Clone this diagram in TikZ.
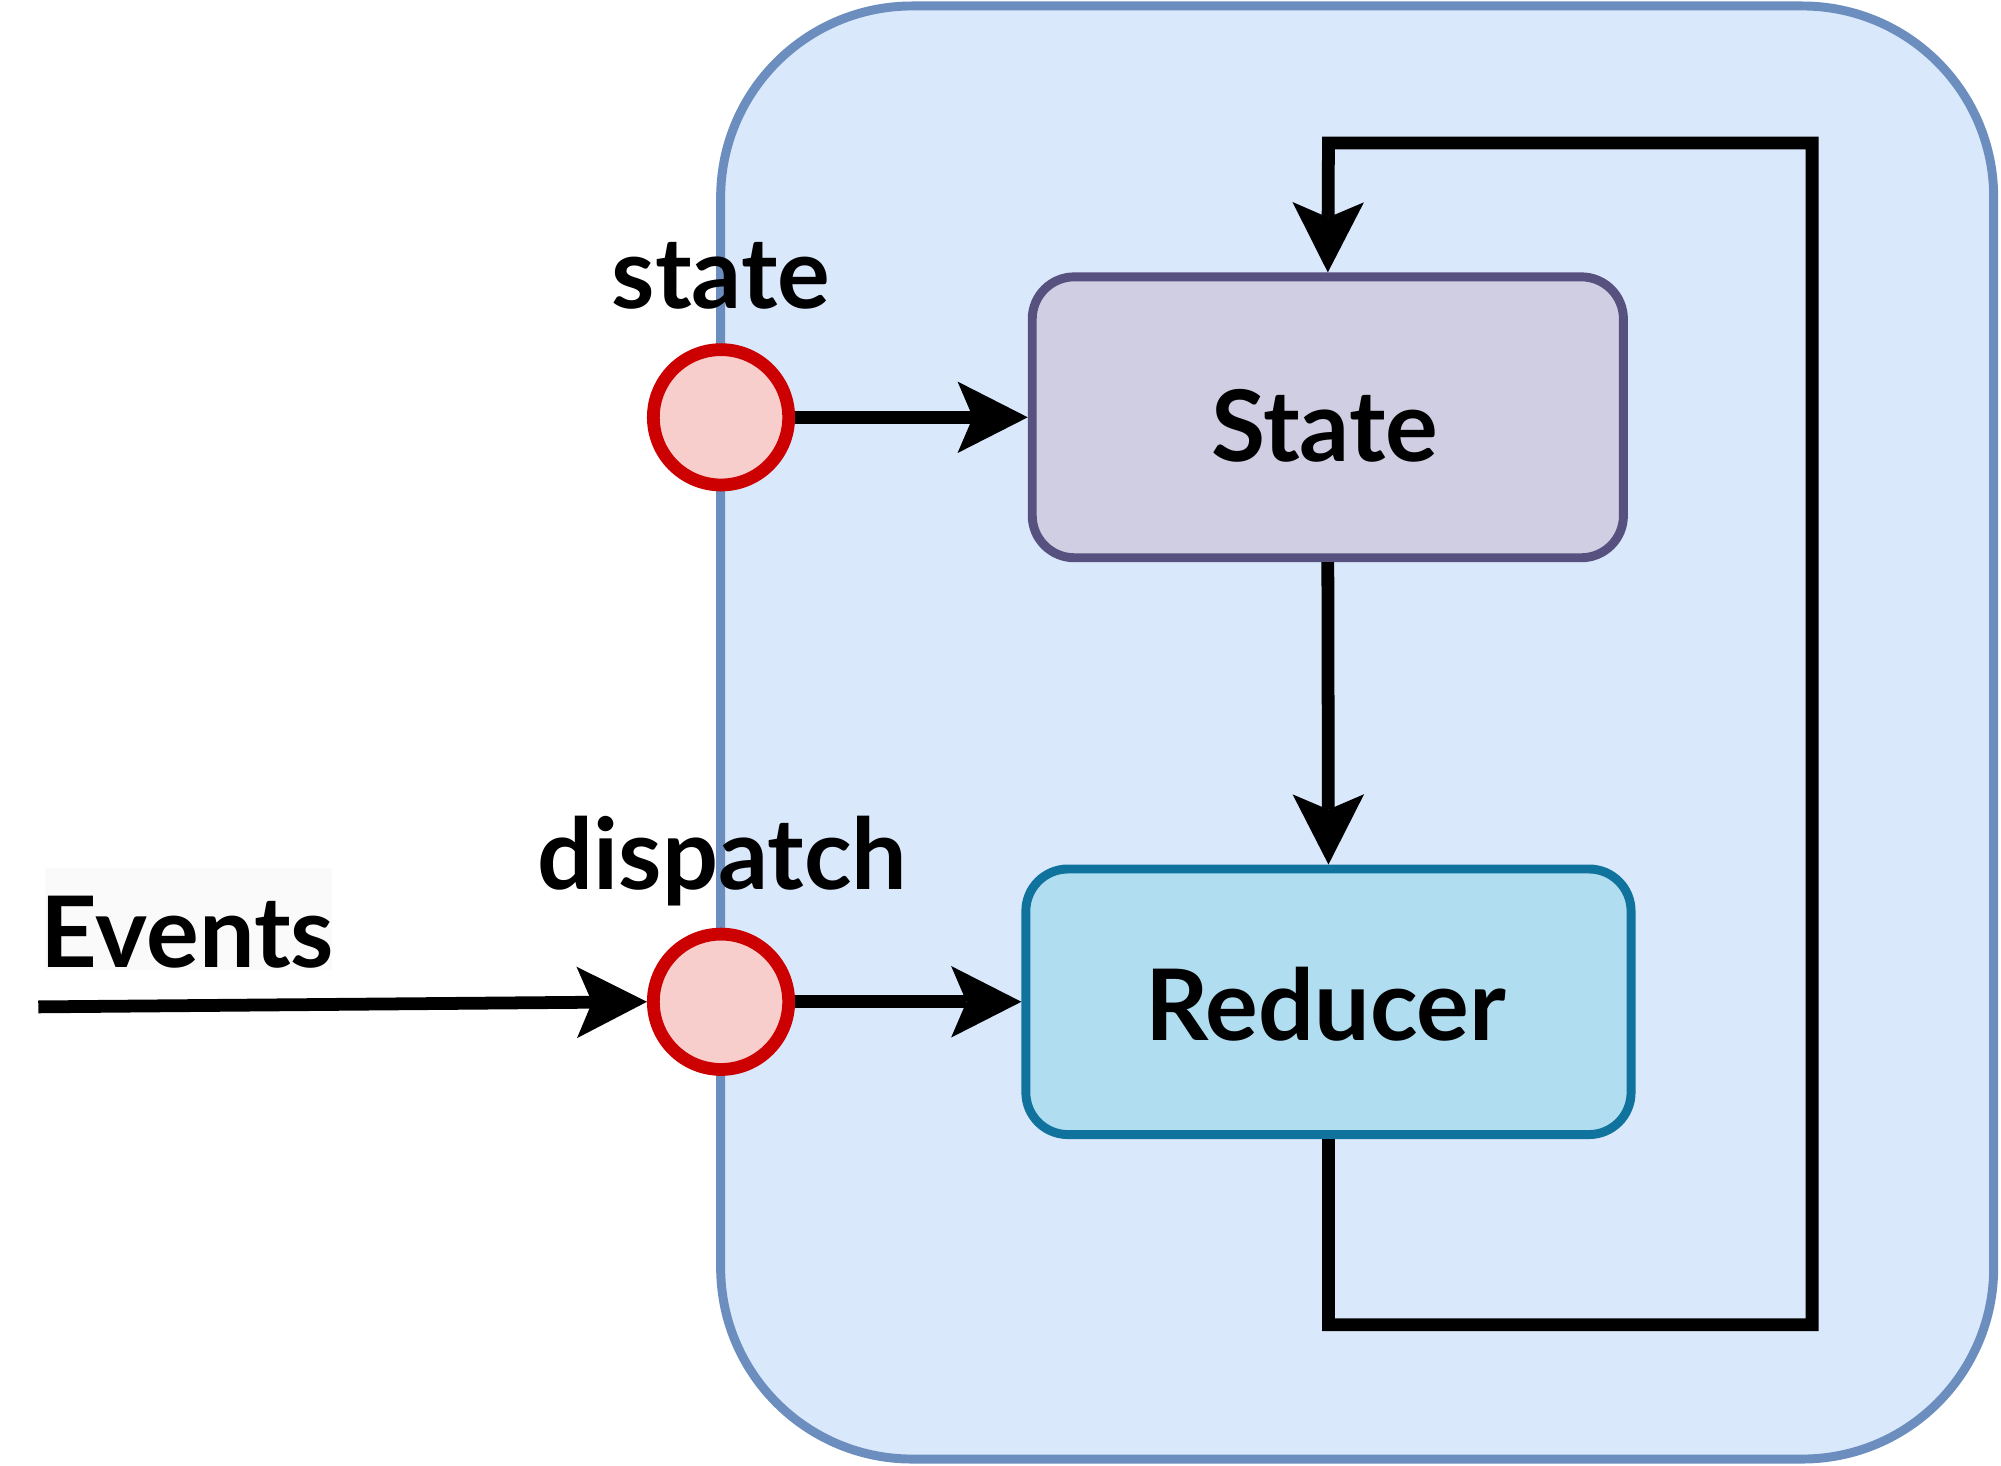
\documentclass[tikz,border=0pt]{standalone}
\usepackage{fontspec}
\setmainfont{Lato}
\usepackage{xcolor}
\usetikzlibrary{positioning}
\usetikzlibrary{arrows.meta}
\definecolor{frameFill}{HTML}{DAE8FC}
\definecolor{frameDraw}{HTML}{6C8EBF}
\definecolor{dotFill}{HTML}{F8CECC}
\definecolor{dotDraw}{HTML}{CC0000}
\definecolor{stateFill}{HTML}{D0CEE2}
\definecolor{stateDraw}{HTML}{56517E}
\definecolor{reducerFill}{HTML}{B1DDF0}
\definecolor{reducerDraw}{HTML}{10739E}
\definecolor{eventsBg}{HTML}{FAFAFA}
\tikzset{
	labeltext/.style={font=\fontsize{22}{26}\selectfont\bfseries, inner sep=0pt, anchor=base},
	portdot/.style={circle, draw=dotDraw, fill=dotFill, line width=0.1cm, minimum size=1.06cm, inner sep=0pt},
	flowbox/.style={rectangle, rounded corners=0.33cm, line width=0.07cm, inner sep=0pt},
	flowline/.style={line width=0.1cm, line join=miter, -{Stealth[length=0.55cm, width=0.56cm, inset=0.12cm, line width=0pt]}},
}

\begin{document}
\begin{tikzpicture}[x=0.01cm, y=-0.01cm]
		\useasboundingbox (0,0) rectangle (1568,1148);
		% container
		\node[rectangle, rounded corners=1.5cm, fill=frameFill, draw=frameDraw, line width=0.07cm, minimum width=9.97cm, minimum height=11.38cm] (frame) at (1063.5,574) {};
		% boxes
		\node[flowbox, fill=stateFill, draw=stateDraw, minimum width=4.63cm, minimum height=2.2cm] (statebox) at (1040.5,327) {};
		\node[flowbox, fill=reducerFill, draw=reducerDraw, minimum width=4.74cm, minimum height=2.08cm] (reducerbox) at (1041,785) {};
		\node[labeltext] (statetext) at (1038,362) {State};
		\node[labeltext] (reducertext) at (1039,815) {Reducer};
		% ports
		\node[portdot] (statedot) at (565,327) {};
		\node[portdot] (dispatchdot) at (565,785) {};
		\node[labeltext] (statelabel) at (565,242) {state};
		\node[labeltext] (dispatchlabel) at (566,697) {dispatch};
		% events
		\fill[eventsBg] (35,680) rectangle (260,760);
		\node[labeltext] (eventslabel) at (147,758) {Events};
		\coordinate (eventsrc) at (30,789);
		% connectors
		\draw[flowline] (eventsrc) -- (dispatchdot.west);
		\draw[flowline] (statedot.east) -- (statebox.west);
		\draw[flowline] (dispatchdot.east) -- (reducerbox.west);
		\draw[flowline] (statebox.south) -- (reducerbox.south |- reducerbox.north);
		\coordinate (loopbottom) at (1420,1038);
		\coordinate (looptop) at (1041,112);
		\draw[flowline] (reducerbox.south) |- (loopbottom) |- (looptop) -- (statebox.north);
	\end{tikzpicture}
\end{document}
